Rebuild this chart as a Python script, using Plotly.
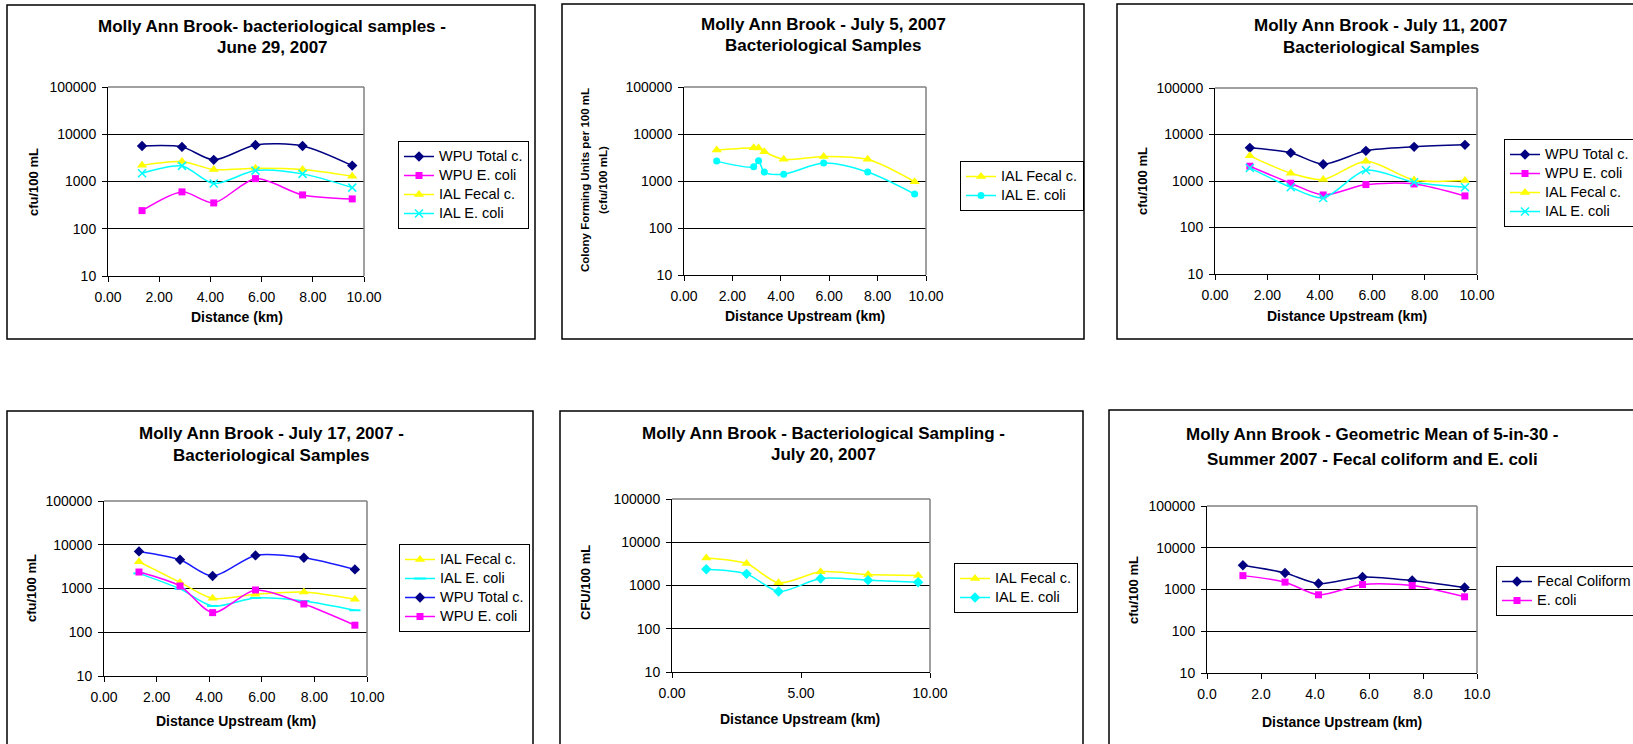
import plotly.graph_objects as go

W, H = 1633, 744
FONT = "Liberation Sans, Arial, sans-serif"

# ---------------- DATA ----------------
SITE_KM = [1.33, 2.89, 4.13, 5.76, 7.60, 9.54]
SITE_KM_JUL5 = [1.35, 2.88, 3.08, 3.32, 4.12, 5.77, 7.59, 9.53]

# June 29, 2007
JUN29_WPU_TOTAL = [5660, 5400, 2870, 5940, 5660, 2170]
JUN29_WPU_ECOLI = [242, 603, 352, 1150, 520, 428]
JUN29_IAL_FECAL = [2210, 2640, 1790, 1900, 1790, 1290]
JUN29_IAL_ECOLI = [1500, 2140, 904, 1700, 1450, 743]

# July 5, 2007
JUL5_IAL_FECAL = [4560, 5120, 5030, 4200, 2890, 3340, 2890, 964]
JUL5_IAL_ECOLI = [2650, 2010, 2700, 1550, 1400, 2410, 1550, 526]

# July 11, 2007
JUL11_WPU_TOTAL = [5160, 4030, 2300, 4450, 5420, 5990]
JUL11_WPU_ECOLI = [2080, 896, 501, 838, 865, 478]
JUL11_IAL_FECAL = [3470, 1470, 1073, 2660, 1055, 1020]
JUL11_IAL_ECOLI = [1910, 733, 432, 1705, 939, 733]

# July 17, 2007
JUL17_IAL_FECAL = [4090, 1380, 597, 736, 832, 566]
JUL17_IAL_ECOLI = [2220, 982, 399, 607, 518, 318]
JUL17_WPU_TOTAL = [7050, 4550, 1930, 5710, 5050, 2730]
JUL17_WPU_ECOLI = [2380, 1140, 281, 925, 443, 145]

# July 20, 2007
JUL20_IAL_FECAL = [4350, 3220, 1150, 2070, 1790, 1700]
JUL20_IAL_ECOLI = [2380, 1860, 727, 1450, 1330, 1190]

# Geometric mean, summer 2007
GM_FECAL = [3800, 2490, 1390, 2000, 1640, 1115]
GM_ECOLI = [2150, 1500, 747, 1315, 1245, 668]

Y_TICKS = [10, 100, 1000, 10000, 100000]
Y_TICK_TEXT = ["10", "100", "1000", "10000", "100000"]
X_TICKS_2 = [0, 2, 4, 6, 8, 10]
X_TEXT_2DP = ["0.00", "2.00", "4.00", "6.00", "8.00", "10.00"]
X_TEXT_1DP = ["0.0", "2.0", "4.0", "6.0", "8.0", "10.0"]
X_TICKS_5 = [0, 5, 10]
X_TEXT_5 = ["0.00", "5.00", "10.00"]

NAVY = "#000080"
MAGENTA = "#FF00FF"
YELLOW = "#FFFF00"
CYAN = "#00FFFF"


def px(x):
    return x / W


def py(y):
    return 1 - y / H


fig = go.Figure()
shapes = []
annotations = []

panels = [
    dict(border=(7, 5, 535, 339), plot=(108, 364, 87, 276),
         title=["Molly Ann Brook- bacteriological samples -", "June 29, 2007"], title_x=272, title_y=[27, 47],
         ytitle=["cfu/100 mL"], ytitle_x=[33], ytitle_y=182, ysize=13,
         xtitle="Distance (km)", xtitle_x=237, xtitle_y=317,
         legend=(398, 141), xt=(X_TICKS_2, X_TEXT_2DP)),
    dict(border=(562, 4, 1084, 339), plot=(684, 926, 87, 275),
         title=["Molly Ann Brook - July 5, 2007", "Bacteriological Samples"], title_x=823, title_y=[25, 46],
         ytitle=["Colony Forming Units per 100 mL", "(cfu/100 mL)"], ytitle_x=[585, 603], ytitle_y=180, ysize=11.5,
         xtitle="Distance Upstream (km)", xtitle_x=805, xtitle_y=316,
         legend=(960, 161), xt=(X_TICKS_2, X_TEXT_2DP)),
    dict(border=(1117, 4, 1700, 339), plot=(1215, 1477, 88, 274),
         title=["Molly Ann Brook - July 11, 2007", "Bacteriological Samples"], title_x=1381, title_y=[26, 47],
         ytitle=["cfu/100 mL"], ytitle_x=[1142], ytitle_y=181, ysize=13,
         xtitle="Distance Upstream (km)", xtitle_x=1347, xtitle_y=316,
         legend=(1504, 139), xt=(X_TICKS_2, X_TEXT_2DP)),
    dict(border=(7, 411, 533, 800), plot=(104, 367, 501, 676),
         title=["Molly Ann Brook - July 17, 2007 -", "Bacteriological Samples"], title_x=271, title_y=[433, 455],
         ytitle=["cfu/100 mL"], ytitle_x=[31], ytitle_y=588, ysize=13,
         xtitle="Distance Upstream (km)", xtitle_x=236, xtitle_y=721,
         legend=(399, 544), xt=(X_TICKS_2, X_TEXT_2DP)),
    dict(border=(560, 411, 1083, 800), plot=(672, 930, 499, 672),
         title=["Molly Ann Brook - Bacteriological Sampling -", "July 20, 2007"], title_x=823, title_y=[433, 454],
         ytitle=["CFU/100 mL"], ytitle_x=[585], ytitle_y=583, ysize=13,
         xtitle="Distance Upstream (km)", xtitle_x=800, xtitle_y=719,
         legend=(954, 563), xt=(X_TICKS_5, X_TEXT_5)),
    dict(border=(1109, 410, 1700, 800), plot=(1207, 1477, 506, 673),
         title=["Molly Ann Brook - Geometric Mean of 5-in-30 -", "Summer 2007 - Fecal coliform and E. coli"],
         title_x=1372, title_y=[434, 459],
         ytitle=["cfu/100 mL"], ytitle_x=[1133], ytitle_y=590, ysize=13,
         xtitle="Distance Upstream (km)", xtitle_x=1342, xtitle_y=722,
         legend=(1496, 566), xt=(X_TICKS_2, X_TEXT_1DP)),
]

series = [
    # panel 1
    [("WPU Total c.", SITE_KM, JUN29_WPU_TOTAL, NAVY, NAVY, "diamond", 8),
     ("WPU E. coli", SITE_KM, JUN29_WPU_ECOLI, MAGENTA, MAGENTA, "square", 7),
     ("IAL Fecal c.", SITE_KM, JUN29_IAL_FECAL, YELLOW, YELLOW, "triangle-up", 9),
     ("IAL E. coli", SITE_KM, JUN29_IAL_ECOLI, CYAN, CYAN, "x-thin", 8)],
    # panel 2
    [("IAL Fecal c.", SITE_KM_JUL5, JUL5_IAL_FECAL, YELLOW, YELLOW, "triangle-up", 9),
     ("IAL E. coli", SITE_KM_JUL5, JUL5_IAL_ECOLI, CYAN, CYAN, "circle", 7)],
    # panel 3
    [("WPU Total c.", SITE_KM, JUL11_WPU_TOTAL, NAVY, NAVY, "diamond", 8),
     ("WPU E. coli", SITE_KM, JUL11_WPU_ECOLI, MAGENTA, MAGENTA, "square", 7),
     ("IAL Fecal c.", SITE_KM, JUL11_IAL_FECAL, YELLOW, YELLOW, "triangle-up", 9),
     ("IAL E. coli", SITE_KM, JUL11_IAL_ECOLI, CYAN, CYAN, "x-thin", 8)],
    # panel 4
    [("IAL Fecal c.", SITE_KM, JUL17_IAL_FECAL, YELLOW, YELLOW, "triangle-up", 9),
     ("IAL E. coli", SITE_KM, JUL17_IAL_ECOLI, CYAN, CYAN, "line-ew", 8),
     ("WPU Total c.", SITE_KM, JUL17_WPU_TOTAL, "#1a1aff", NAVY, "diamond", 8),
     ("WPU E. coli", SITE_KM, JUL17_WPU_ECOLI, MAGENTA, MAGENTA, "square", 7)],
    # panel 5
    [("IAL Fecal c.", SITE_KM, JUL20_IAL_FECAL, YELLOW, YELLOW, "triangle-up", 9),
     ("IAL E. coli", SITE_KM, JUL20_IAL_ECOLI, CYAN, CYAN, "diamond", 8)],
    # panel 6
    [("Fecal Coliform", SITE_KM, GM_FECAL, NAVY, NAVY, "diamond", 8),
     ("E. coli", SITE_KM, GM_ECOLI, MAGENTA, MAGENTA, "square", 7)],
]

layout_axes = {}
legends = {}
for i, (p, sers) in enumerate(zip(panels, series), start=1):
    suffix = "" if i == 1 else str(i)
    lx0, lx1, ly0, ly1 = p["plot"]
    xname = "xaxis" + suffix
    yname = "yaxis" + suffix
    legname = "legend" + suffix
    tick_common = dict(ticks="outside", ticklen=5, tickwidth=1, tickcolor="black",
                       showline=True, linecolor="black", linewidth=1,
                       tickfont=dict(family=FONT, size=14, color="black"))
    layout_axes[xname] = dict(domain=[px(lx0), px(lx1)], anchor="y" + suffix, range=[0, 10],
                              tickvals=p["xt"][0], ticktext=p["xt"][1], showgrid=False,
                              zeroline=False, ticklabelstandoff=3, **tick_common)
    layout_axes[yname] = dict(domain=[py(ly1), py(ly0)], anchor="x" + suffix, type="log", range=[1, 5],
                              tickvals=Y_TICKS, ticktext=Y_TICK_TEXT, showgrid=True,
                              gridcolor="black", gridwidth=1, zeroline=False,
                              ticklabelstandoff=3, **tick_common)
    lgx, lgy = p["legend"]
    legends[legname] = dict(x=px(lgx), y=py(lgy), xanchor="left", yanchor="top",
                            xref="paper", yref="paper",
                            bordercolor="black", borderwidth=1, bgcolor="white",
                            font=dict(family=FONT, size=12, color="black"),
                            tracegroupgap=0)
    for name, xs, ys, lcol, mcol, sym, size in sers:
        marker = dict(symbol=sym, size=size, color=mcol)
        if sym in ("x-thin", "line-ew"):
            marker["line"] = dict(color=mcol, width=2 if sym == "line-ew" else 1.5)
        fig.add_trace(go.Scatter(
            x=xs, y=ys, name='<span style="font-size:14.5px">' + name + "</span>",
            mode="lines+markers",
            line=dict(color=lcol, width=1.5, shape="spline", smoothing=0.8),
            marker=marker, xaxis="x" + suffix, yaxis="y" + suffix,
            legend=legname, showlegend=True, hoverinfo="x+y"))

    # chart border
    bx0, by0, bx1, by1 = p["border"]
    shapes.append(dict(type="rect", xref="paper", yref="paper",
                       x0=px(bx0), x1=px(bx1), y0=py(by1), y1=py(by0),
                       line=dict(color="black", width=1.5), layer="below"))
    # plot area top/right border (gray)
    shapes.append(dict(type="line", xref="paper", yref="paper",
                       x0=px(lx0), x1=px(lx1), y0=py(ly0), y1=py(ly0),
                       line=dict(color="#808080", width=1.5)))
    shapes.append(dict(type="line", xref="paper", yref="paper",
                       x0=px(lx1), x1=px(lx1), y0=py(ly0), y1=py(ly1),
                       line=dict(color="#808080", width=1.5)))
    # titles
    for txt, ty in zip(p["title"], p["title_y"]):
        annotations.append(dict(text=txt, x=px(p["title_x"]), y=py(ty), xref="paper", yref="paper",
                                xanchor="center", yanchor="middle", showarrow=False,
                                font=dict(family=FONT, size=17, color="black", weight="bold")))
    for txt, tx in zip(p["ytitle"], p["ytitle_x"]):
        annotations.append(dict(text=txt, x=px(tx), y=py(p["ytitle_y"]), xref="paper", yref="paper",
                                xanchor="center", yanchor="middle", showarrow=False, textangle=-90,
                                font=dict(family=FONT, size=p["ysize"], color="black", weight="bold")))
    annotations.append(dict(text=p["xtitle"], x=px(p["xtitle_x"]), y=py(p["xtitle_y"]),
                            xref="paper", yref="paper", xanchor="center", yanchor="middle",
                            showarrow=False,
                            font=dict(family=FONT, size=14, color="black", weight="bold")))

fig.update_layout(
    width=W, height=H,
    margin=dict(l=0, r=0, t=0, b=0, autoexpand=False),
    paper_bgcolor="white", plot_bgcolor="white",
    font=dict(family=FONT, color="black"),
    shapes=shapes, annotations=annotations,
    **layout_axes, **legends,
)

fig.write_html(
    "out.html",
    config={"displayModeBar": False},
    post_script="document.body.style.margin='0';document.body.style.overflow='hidden';",
)
